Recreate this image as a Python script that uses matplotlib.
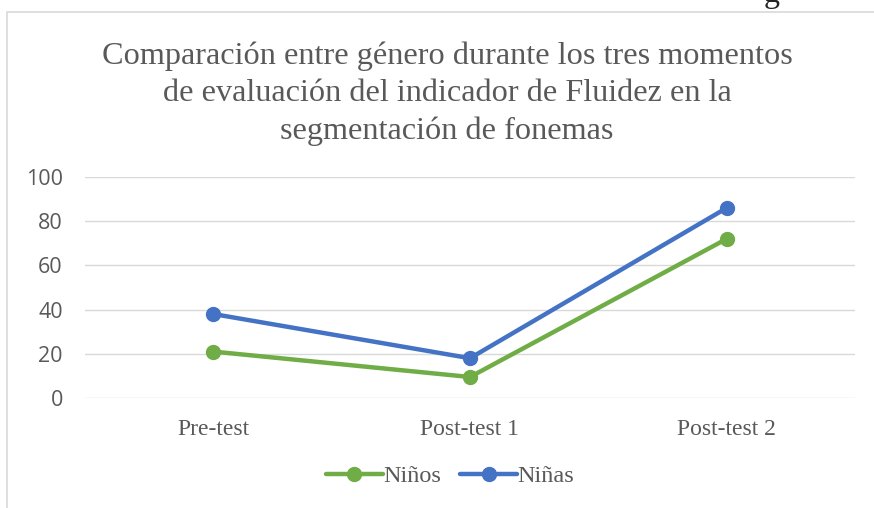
import matplotlib.pyplot as plt
from matplotlib.patches import Rectangle

# DATA
categories = ["Pre-test", "Post-test 1", "Post-test 2"]
ninos = [21, 9.5, 72]
ninas = [38, 18, 86]
y_ticks = [0, 20, 40, 60, 80, 100]

GREEN = "#70AD47"
BLUE = "#4472C4"
TEXT = "#595959"
SERIF = ["Liberation Serif", "DejaVu Serif"]
SANS = ["Open Sans", "DejaVu Sans"]

fig = plt.figure(figsize=(8.74, 5.08), dpi=100)
W, H = 874, 508

# chart frame (crops off the right and bottom of the image)
fig.patches.append(Rectangle((7 / W, -0.05), 1.0, 1 - 12 / H + 0.05,
                             transform=fig.transFigure, fill=False,
                             edgecolor="#D9D9D9", linewidth=1.2))
# cut-off text fragment above the chart
fig.text(772 / W, 1 - 2 / H, "g", family=SERIF, fontsize=23, color="#222222",
         ha="center", va="baseline")

ax = fig.add_axes([85 / W, 1 - 398 / H, 770 / W, (398 - 177) / H])
x = range(len(categories))
ax.plot(x, ninos, color=GREEN, lw=3.2, marker="o", ms=10, label="Niños",
        solid_capstyle="round")
ax.plot(x, ninas, color=BLUE, lw=3.2, marker="o", ms=10, label="Niñas",
        solid_capstyle="round")

ax.set_xlim(-0.5, 2.5)
ax.set_ylim(0, 100)
ax.set_yticks(y_ticks)
ax.set_xticks(list(x))
ax.set_xticklabels(categories, family=SERIF, fontsize=17, color=TEXT)
for lbl in ax.get_yticklabels():
    lbl.set_family(SANS)
    lbl.set_fontsize(15.5)
    lbl.set_color(TEXT)
ax.tick_params(length=0, pad=16, axis="y")
ax.tick_params(length=0, pad=15, axis="x")
ax.grid(axis="y", color="#D9D9D9", lw=1)
ax.set_axisbelow(True)
for s in ax.spines.values():
    s.set_visible(False)

fig.text(447 / W, 1 - 94 / H,
         "Comparación entre género durante los tres momentos\n"
         "de evaluación del indicador de Fluidez en la\n"
         "segmentación de fonemas",
         family=SERIF, fontsize=23.2, color=TEXT, ha="center", va="center",
         linespacing=1.37)

fig.legend(loc="center", bbox_to_anchor=(450 / W, 1 - 476 / H), ncol=2,
           frameon=False, prop={"family": SERIF, "size": 17.5},
           labelcolor=TEXT, handlelength=2.35, handletextpad=0.0,
           columnspacing=0.8)

fig.savefig("out.png", dpi=100)
